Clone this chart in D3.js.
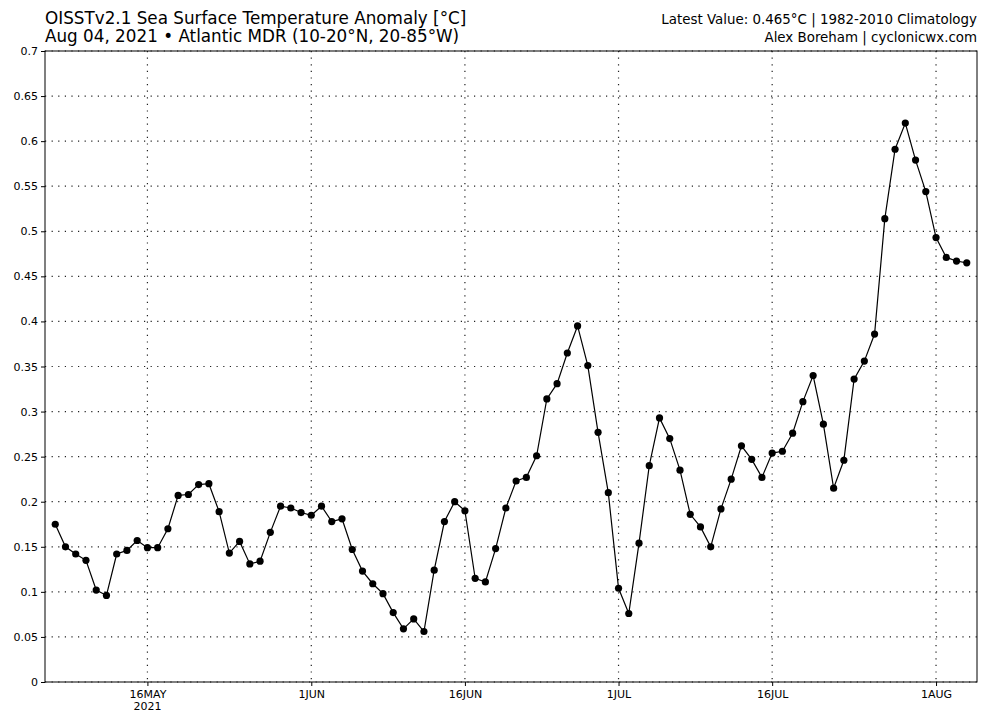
<!DOCTYPE html>
<html><head><meta charset="utf-8">
<script src="https://cdn.jsdelivr.net/npm/d3@7"></script>
<style>body{margin:0;background:#fff;} text{font-family:"DejaVu Sans",sans-serif;}</style>
</head><body><svg id="c" width="1000" height="714"></svg>
<script>
const startDate = "2021-05-07";
const values = [0.175,0.150,0.142,0.135,0.102,0.096,0.142,0.146,0.157,0.149,
0.149,0.170,0.207,0.208,0.219,0.220,0.189,0.143,0.156,0.131,
0.134,0.166,0.195,0.193,0.188,0.185,0.195,0.178,0.181,0.147,
0.123,0.109,0.098,0.077,0.059,0.070,0.056,0.124,0.178,0.200,
0.190,0.115,0.111,0.148,0.193,0.223,0.227,0.251,0.314,0.331,
0.365,0.395,0.351,0.277,0.210,0.104,0.076,0.154,0.240,0.293,
0.270,0.235,0.186,0.172,0.150,0.192,0.225,0.262,0.247,0.227,
0.254,0.256,0.276,0.311,0.340,0.286,0.215,0.246,0.336,0.356,
0.386,0.514,0.591,0.620,0.579,0.544,0.493,0.471,0.467,0.465];
const yTicks = [0,0.05,0.1,0.15,0.2,0.25,0.3,0.35,0.4,0.45,0.5,0.55,0.6,0.65,0.7];
const yTickLabels = ["0","0.05","0.1","0.15","0.2","0.25","0.3","0.35","0.4","0.45","0.5","0.55","0.6","0.65","0.7"];
const xTickDates = ["2021-05-16","2021-06-01","2021-06-16","2021-07-01","2021-07-16","2021-08-01"];
const xTickLabels = ["16MAY","1JUN","16JUN","1JUL","16JUL","1AUG"];
const titleLines = ["OISSTv2.1 Sea Surface Temperature Anomaly [°C]","Aug 04, 2021 \u2022 Atlantic MDR (10-20°N, 20-85°W)"];
const rightLines = ["Latest Value: 0.465°C | 1982-2010 Climatology","Alex Boreham | cyclonicwx.com"];

const parse = d3.utcParse("%Y-%m-%d");
const t0 = parse(startDate);
const data = values.map((v,i)=>({d:d3.utcDay.offset(t0,i), v}));

const L=45, R=977, T=51, B=682;
const svg = d3.select("#c");
const x = d3.scaleUtc().domain([parse("2021-05-06"), parse("2021-08-05")]).range([L,R]);
const y = d3.scaleLinear().domain([0,0.7]).range([B,T]);

// grid
const g = svg.append("g");
g.selectAll(".hg").data(yTicks).join("line")
 .attr("x1",L).attr("x2",R).attr("y1",d=>y(d)).attr("y2",d=>y(d))
 .attr("stroke","#222").attr("stroke-width",1.2).attr("stroke-dasharray","1.2,5.4");
g.selectAll(".vg").data(xTickDates).join("line")
 .attr("x1",d=>x(parse(d))).attr("x2",d=>x(parse(d))).attr("y1",T).attr("y2",B)
 .attr("stroke","#222").attr("stroke-width",1.2).attr("stroke-dasharray","1.2,5.4");

// axes
const yAxis = d3.axisLeft(y).tickValues(yTicks).tickFormat((d,i)=>yTickLabels[i]).tickSize(4).tickPadding(3);
const ya = svg.append("g").attr("transform",`translate(${L},0)`).call(yAxis);
ya.select(".domain").remove();
ya.selectAll("text").attr("font-size",11).attr("fill","#000").style("font-family","DejaVu Sans");
const xAxis = d3.axisBottom(x).tickValues(xTickDates.map(parse)).tickFormat((d,i)=>xTickLabels[i]).tickSize(4).tickPadding(4);
const xa = svg.append("g").attr("transform",`translate(0,${B})`).call(xAxis);
xa.select(".domain").remove();
xa.selectAll("text").attr("font-size",11).attr("fill","#000").style("font-family","DejaVu Sans");
svg.append("text").attr("x",x(parse(xTickDates[0]))).attr("y",B+28).attr("text-anchor","middle")
 .attr("font-size",11).text("2021");

// frame
svg.append("rect").attr("x",L).attr("y",T).attr("width",R-L).attr("height",B-T)
 .attr("fill","none").attr("stroke","#000").attr("stroke-width",1);

// line
svg.append("path").datum(data)
 .attr("d",d3.line().x(d=>x(d.d)).y(d=>y(d.v)))
 .attr("fill","none").attr("stroke","#000").attr("stroke-width",1.2);
svg.selectAll(".pt").data(data).join("circle")
 .attr("cx",d=>x(d.d)).attr("cy",d=>y(d.v)).attr("r",3.6).attr("fill","#000");

// titles
svg.selectAll(".tl").data(titleLines).join("text")
 .attr("x",45).attr("y",(d,i)=>24+i*18).attr("font-size",16.8).text(d=>d);
svg.selectAll(".rl").data(rightLines).join("text")
 .attr("x",977).attr("y",(d,i)=>24+i*18).attr("font-size",13.4).attr("text-anchor","end").text(d=>d);
</script></body></html>
